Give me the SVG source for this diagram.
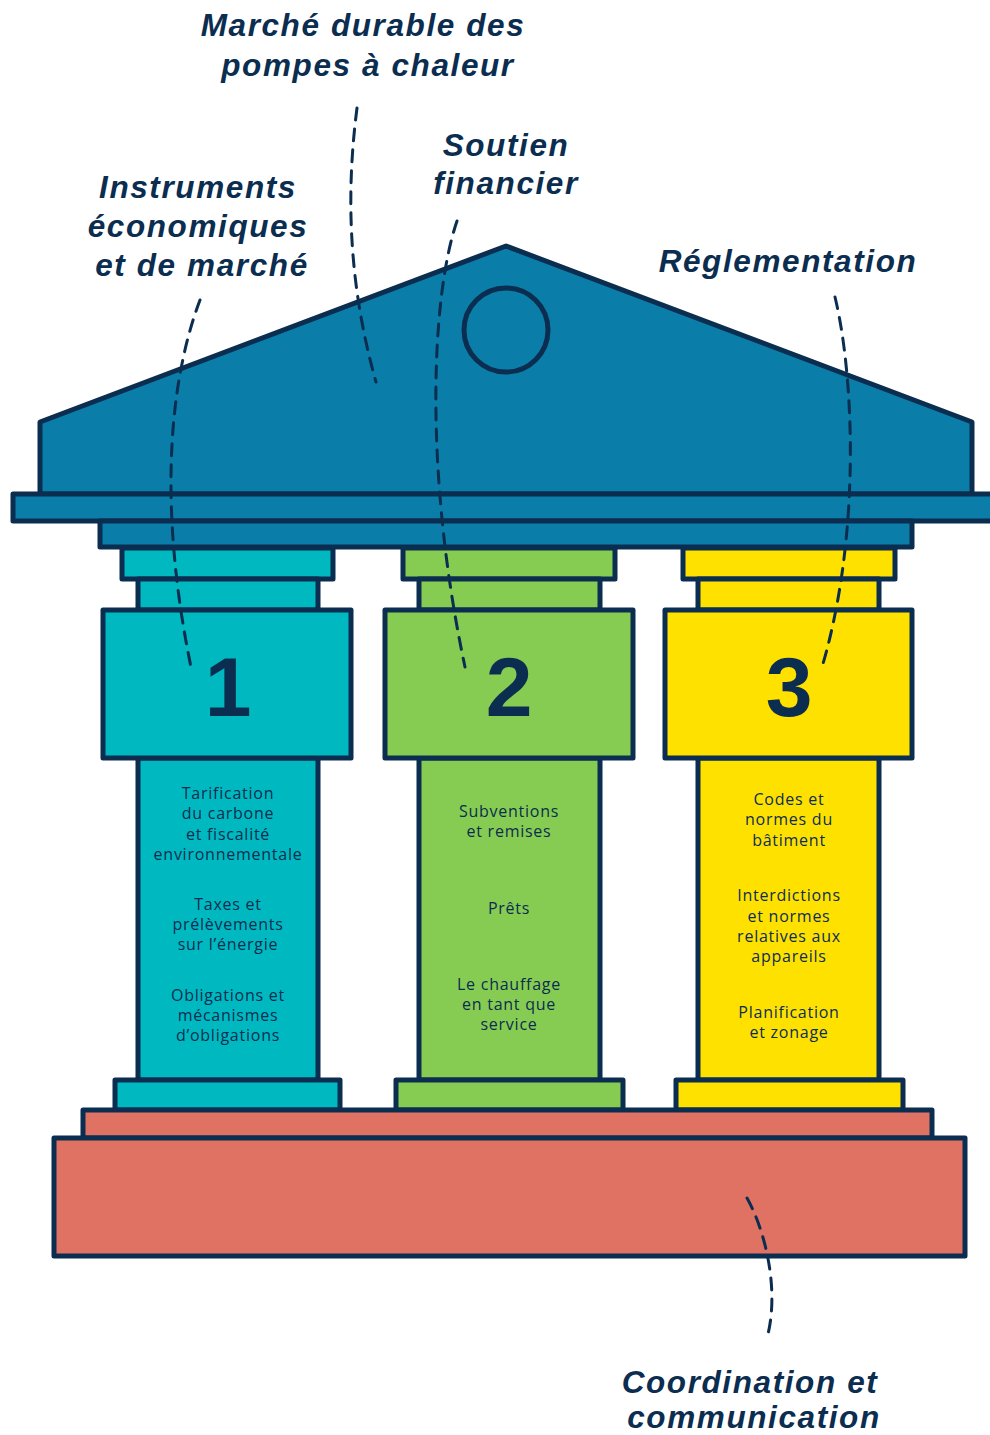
<svg xmlns="http://www.w3.org/2000/svg" width="990" height="1435" viewBox="0 0 990 1435">
<style>
.o{stroke:#0b2d50;stroke-width:5;stroke-linejoin:round}
.roof{fill:#0a7ea8}
.c1{fill:#00b9c0}
.c2{fill:#87cc52}
.c3{fill:#ffe100}
.pl{fill:#e07264}
.lbl{font-family:"Liberation Sans",Arial,sans-serif;font-weight:bold;font-style:italic;font-size:31.5px;letter-spacing:1.6px;fill:#0b2d50;text-anchor:middle}
.num{font-family:"Liberation Sans",Arial,sans-serif;font-weight:bold;font-size:84px;fill:#0b2d50;text-anchor:middle}
.t{font-family:"Open Sans","Liberation Sans",sans-serif;font-size:16px;letter-spacing:0.75px;fill:#0b2d50;text-anchor:middle}
.d{fill:none;stroke:#0b2d50;stroke-width:3;stroke-dasharray:12 9;stroke-linecap:round}
</style>
<rect width="990" height="1435" fill="#ffffff"/>
<g id="roof">
<polygon class="o roof" points="40,422 506,246 972,422 972,494 40,494"/>
<circle class="o roof" cx="506" cy="330" r="42"/>
<rect class="o roof" x="13" y="494" width="990" height="27"/>
<rect class="o roof" x="100" y="521" width="812" height="26"/>
</g>
<g id="pillar1">
<rect class="o c1" x="122" y="548" width="211" height="31"/>
<rect class="o c1" x="138" y="579" width="180" height="31"/>
<rect class="o c1" x="138" y="758" width="180" height="322"/>
<rect class="o c1" x="103" y="610" width="248" height="148"/>
<rect class="o c1" x="115" y="1080" width="225" height="30"/>
<text class="num" x="228" y="716">1</text>
<text class="t" x="228" y="799">Tarification</text>
<text class="t" x="228" y="819">du carbone</text>
<text class="t" x="228" y="840">et fiscalité</text>
<text class="t" x="228" y="860">environnementale</text>
<text class="t" x="228" y="910">Taxes et</text>
<text class="t" x="228" y="930">prélèvements</text>
<text class="t" x="228" y="950">sur l’énergie</text>
<text class="t" x="228" y="1001">Obligations et</text>
<text class="t" x="228" y="1021">mécanismes</text>
<text class="t" x="228" y="1041">d’obligations</text>
</g>
<g id="pillar2">
<rect class="o c2" x="403" y="548" width="212" height="31"/>
<rect class="o c2" x="419" y="579" width="181" height="31"/>
<rect class="o c2" x="419" y="758" width="181" height="322"/>
<rect class="o c2" x="385" y="610" width="248" height="148"/>
<rect class="o c2" x="396" y="1080" width="227" height="30"/>
<text class="num" x="509" y="716">2</text>
<text class="t" x="509" y="817">Subventions</text>
<text class="t" x="509" y="837">et remises</text>
<text class="t" x="509" y="914">Prêts</text>
<text class="t" x="509" y="990">Le chauffage</text>
<text class="t" x="509" y="1010">en tant que</text>
<text class="t" x="509" y="1030">service</text>
</g>
<g id="pillar3">
<rect class="o c3" x="683" y="548" width="212" height="31"/>
<rect class="o c3" x="698" y="579" width="181" height="31"/>
<rect class="o c3" x="698" y="758" width="181" height="322"/>
<rect class="o c3" x="665" y="610" width="247" height="148"/>
<rect class="o c3" x="676" y="1080" width="227" height="30"/>
<text class="num" x="789" y="716">3</text>
<text class="t" x="789" y="805">Codes et</text>
<text class="t" x="789" y="825">normes du</text>
<text class="t" x="789" y="846">bâtiment</text>
<text class="t" x="789" y="901">Interdictions</text>
<text class="t" x="789" y="922">et normes</text>
<text class="t" x="789" y="942">relatives aux</text>
<text class="t" x="789" y="962">appareils</text>
<text class="t" x="789" y="1018">Planification</text>
<text class="t" x="789" y="1038">et zonage</text>
</g>
<g id="plinth">
<rect class="o pl" x="83" y="1110" width="849" height="28"/>
<rect class="o pl" x="54" y="1138" width="911" height="118"/>
</g>
<g id="labels">
<text class="lbl" x="363" y="36">Marché durable des</text>
<text class="lbl" x="368" y="76">pompes à chaleur</text>
<text class="lbl" x="506" y="156">Soutien</text>
<text class="lbl" x="506" y="194">financier</text>
<text class="lbl" x="198" y="198">Instruments</text>
<text class="lbl" x="198" y="237">économiques</text>
<text class="lbl" x="202" y="276">et de marché</text>
<text class="lbl" x="788" y="272">Réglementation</text>
<text class="lbl" x="750" y="1393">Coordination et</text>
<text class="lbl" x="754" y="1428">communication</text>
</g>
<g id="connectors">
<path class="d" d="M200,300 C166,390 160,520 192,672"/>
<path class="d" d="M357,108 C345,200 350,290 376,382"/>
<path class="d" d="M457,221 C430,300 425,480 465,667"/>
<path class="d" d="M835,297 C855,380 860,540 822,667"/>
<path class="d" d="M747,1198 C765,1230 780,1290 767,1338"/>
</g>
</svg>
